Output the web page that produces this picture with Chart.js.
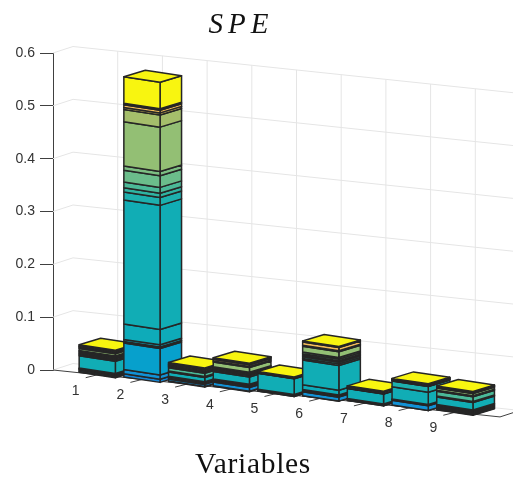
<!DOCTYPE html>
<html>
<head>
<meta charset="utf-8">
<style>
  body { margin: 0; background: #fff; }
  canvas { display: block; }
</style>
<script src="https://cdn.jsdelivr.net/npm/chart.js@4/dist/chart.umd.min.js"></script>
</head>
<body>
<canvas id="chart" width="513" height="477"></canvas>
<script>
const categories = [1, 2, 3, 4, 5, 6, 7, 8, 9];

// stacked parts of each variable, bottom to top
const bar1 = [.002, .002, .002, .001, .001, .001, .023, .002, .002, .002, .002, .002, .004, .002, .001, .001, .001, .002];
const bar2 = [.007, .008, .05, .003, .004, .029, .235, .015, .008, .011, .022, .008, .084, .023, .004, .005, .003, .05];
const bar3 = [.002, .004, .002, .001, .001, .001, .008, .001, .001, .006, .002, .001, .001, .001, .001, .001, .001, .002];
const bar4 = [.002, .007, .002, .002, .001, .001, .014, .002, .002, .002, .002, .001, .009, .002, .003, .001, .001, .001];
const bar5 = [.001, .001, .001, .0005, .0005, .0005, .03, .0003, .0003, .0003, .0003, .0003, .0003, .0003, .0003, .0003, .0003, .0003];
const bar6 = [.001, .0075, .001, .001, .002, .009, .047, .003, .003, .003, .003, .003, .011, .001, .001, .006, .001, .001];
const bar7 = [.001, .001, .001, .0005, .0005, .0005, .019, .0003, .0003, .0003, .0003, .0003, .0003, .0003, .0003, .002, .0003, .0003];
const bar8 = [.001, .009, .001, .0005, .0005, .0005, .023, .011, .0005, .0005, .0005, .0005, .0005, .0005, .0005, .0005, .0005, .0005];
const bar9 = [.002, .002, .002, .002, .002, .001, .014, .001, .001, .009, .001, .001, .004, .0005, .0005, .002, .0005, .0005];
const bars = [bar1, bar2, bar3, bar4, bar5, bar6, bar7, bar8, bar9];

const seriesColors = ['#1485d4', '#1292d6', '#07a0cc', '#08a6c4', '#0aa9bf', '#0eabb9', '#11adb5', '#1db0ae', '#2fb4a2',
  '#4bb998', '#6bbd8b', '#7cbe82', '#93bf74', '#a5be6b', '#d7ba54', '#f5bd5a', '#f9d52f', '#f8f510'];

const yTicks = [0, 0.1, 0.2, 0.3, 0.4, 0.5, 0.6];

// oblique view of the box
const floorSlope = 0.105;
const barSlope = 0.15;
const depthX = 20, depthY = -6.5;
const barDepthX = 21.5, barDepthY = -6.5;
const halfBar = 0.405;
const edgeColor = '#262626';
const gridColor = '#e5e5e5';

function polygon(ctx, pts, fill) {
  ctx.beginPath();
  pts.forEach((p, i) => i ? ctx.lineTo(p[0], p[1]) : ctx.moveTo(p[0], p[1]));
  ctx.closePath();
  if (fill) {
    ctx.fillStyle = fill;
    ctx.fill();
    ctx.strokeStyle = edgeColor;
    ctx.lineWidth = 1.5;
    ctx.stroke();
  }
}

function line(ctx, x1, y1, x2, y2, color, width) {
  ctx.beginPath();
  ctx.moveTo(x1, y1);
  ctx.lineTo(x2, y2);
  ctx.strokeStyle = color;
  ctx.lineWidth = width;
  ctx.stroke();
}

const box3d = {
  id: 'box3d',
  beforeDatasetsDraw(chart) {
    const { ctx, scales: { x, y } } = chart;
    const x0 = x.getPixelForValue(0), x10 = x.getPixelForValue(10);
    const y0 = y.getPixelForValue(0);
    const skew = px => (px - x0) * floorSlope;
    ctx.save();

    // walls
    yTicks.forEach(v => {
      const py = y.getPixelForValue(v);
      line(ctx, x0, py, x0 + depthX, py + depthY, gridColor, 1);
      line(ctx, x0 + depthX, py + depthY, x10 + depthX, py + depthY + skew(x10), gridColor, 1);
    });
    categories.forEach(k => {
      const px = x.getPixelForValue(k);
      const top = y.getPixelForValue(0.6);
      line(ctx, px + depthX, top + depthY + skew(px), px + depthX, y0 + depthY + skew(px), gridColor, 1);
      line(ctx, px, y0 + skew(px), px + depthX, y0 + depthY + skew(px), gridColor, 1);
    });

    // floor edges and ticks
    line(ctx, x0, y0, x10, y0 + skew(x10), '#404040', 1);
    line(ctx, x10, y0 + skew(x10), x10 + depthX, y0 + skew(x10) + depthY, '#404040', 1);
    ctx.fillStyle = '#333';
    ctx.font = '14px "Liberation Sans"';
    ctx.textAlign = 'center';
    ctx.textBaseline = 'middle';
    categories.forEach(k => {
      const px = x.getPixelForValue(k);
      const py = y0 + skew(px);
      line(ctx, px, py, px - 12, py + 3, '#404040', 1);
      ctx.fillStyle = '#333';
      ctx.fillText(String(k), px - 22, py + 16);
    });
    ctx.restore();
  },
  // the library has stacked the bars; skip its flat rectangles and draw boxes from them
  beforeDatasetDraw() {
    return false;
  },
  afterDatasetsDraw(chart) {
    const { ctx, scales: { x, y } } = chart;
    const x0 = x.getPixelForValue(0);
    ctx.save();
    ctx.lineJoin = 'round';
    categories.forEach((k, c) => {
      const left = x.getPixelForValue(k - 0.01 - halfBar);
      const right = x.getPixelForValue(k - 0.01 + halfBar);
      const shift = (left - x0) * floorSlope;
      const drop = (right - left) * barSlope;
      chart.data.datasets.forEach((ds, s) => {
        const bar = chart.getDatasetMeta(s).data[c];
        const yTop = bar.y + shift;
        const yBase = bar.base + shift;
        const a = [left, yBase], b = [right, yBase + drop];
        const e = [right, yTop + drop], f = [left, yTop];
        const off = p => [p[0] + barDepthX, p[1] + barDepthY];
        polygon(ctx, [b, off(b), off(e), e], ds.backgroundColor);
        polygon(ctx, [a, b, e, f], ds.backgroundColor);
        if (s === chart.data.datasets.length - 1) {
          polygon(ctx, [f, e, off(e), off(f)], ds.backgroundColor);
        }
      });
    });

    ctx.fillStyle = '#111';
    ctx.textAlign = 'center';
    ctx.textBaseline = 'alphabetic';
    ctx.font = 'italic 29px "Liberation Serif"';
    ctx.letterSpacing = '5px';
    ctx.fillText('SPE', 241, 33);
    ctx.font = '29.5px "Liberation Serif"';
    ctx.letterSpacing = '0.7px';
    ctx.fillText('Variables', 253, 473);
    ctx.restore();
  }
};

new Chart(document.getElementById('chart'), {
  type: 'bar',
  data: {
    datasets: seriesColors.map((color, s) => ({
      label: 'part ' + (s + 1),
      backgroundColor: color,
      data: categories.map((k, c) => ({ x: k, y: bars[c][s] }))
    }))
  },
  plugins: [box3d],
  options: {
    responsive: false,
    animation: false,
    layout: { padding: { left: 0, top: 53, right: 13, bottom: 107 } },
    plugins: { legend: { display: false }, tooltip: { enabled: false } },
    scales: {
      x: { type: 'linear', min: 0, max: 10, offset: false, stacked: true, display: false },
      y: {
        min: 0,
        max: 0.6,
        stacked: true,
        afterFit: scale => { scale.width = 53; },
        afterBuildTicks: scale => { scale.ticks = yTicks.map(value => ({ value })); },
        grid: { drawOnChartArea: false, tickLength: 13, color: '#404040' },
        border: { color: '#404040' },
        ticks: { color: '#333', padding: 5, font: { family: '"Liberation Sans"', size: 14 } }
      }
    }
  }
});
</script>
</body>
</html>
